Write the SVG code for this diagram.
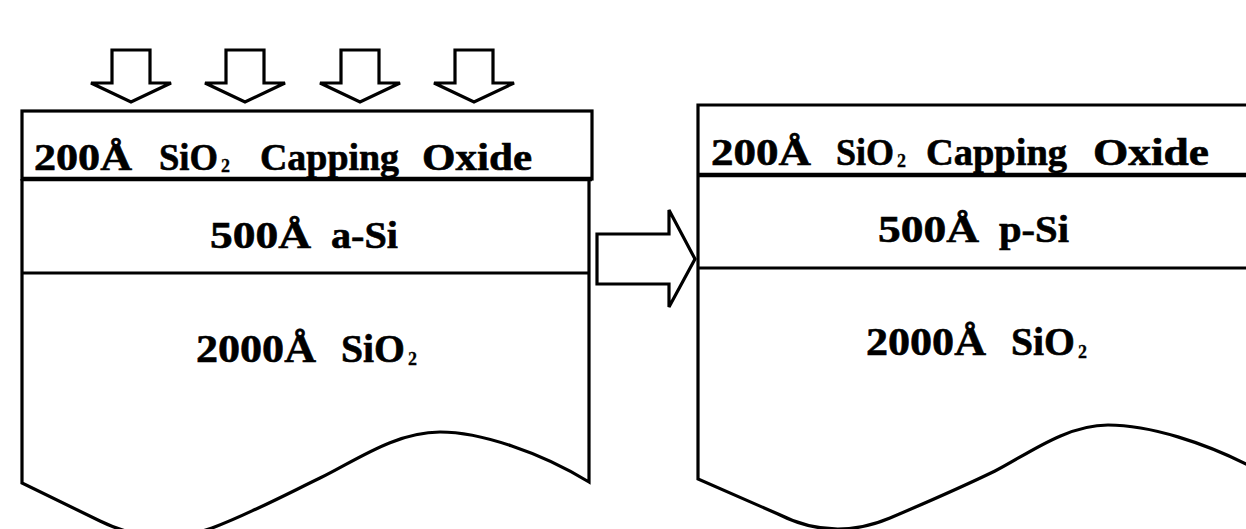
<svg xmlns="http://www.w3.org/2000/svg" width="1246" height="529" viewBox="0 0 1246 529">
<style>
.ln{fill:none;stroke:#000;stroke-width:3.2;stroke-linejoin:miter}
.thick{fill:none;stroke:#000;stroke-width:4.6}
.ar{fill:#fff;stroke:#000;stroke-width:3.2;stroke-linejoin:miter}
text{font-family:"Liberation Serif","Times New Roman",serif;font-weight:bold;fill:#000;stroke:#000;stroke-width:0.6}
.cap{font-size:37px}
.mid{font-size:38px}
.big{font-size:40px}
.sub{font-size:18px;stroke-width:0.3}
</style>
<defs>
<polygon id="down" points="-19,50 19,50 19,83 40,83 0,102 -40,83 -19,83"/>
</defs>
<rect width="1246" height="529" fill="#fff"/>
<g id="irradiation">
<use href="#down" x="131" class="ar"/>
<use href="#down" x="245" class="ar"/>
<use href="#down" x="360" class="ar"/>
<use href="#down" x="474" class="ar"/>
</g>
<g id="stack-before">
<rect x="22" y="111" width="570" height="68" class="ln"/>
<line x1="22" y1="179" x2="592" y2="179" class="thick"/>
<path class="ln" d="M22 179 V483 L100 521 Q155 548 212 528 C245 516 285 495 320 478 C355 461 395 432 440 432 C480 432 540 452 589 482 V179"/>
<line x1="22" y1="273" x2="589" y2="273" class="ln"/>
<text class="cap" x="34" y="170" textLength="98" lengthAdjust="spacingAndGlyphs">200Å</text>
<text class="cap" x="159" y="170" textLength="59" lengthAdjust="spacingAndGlyphs">SiO</text>
<text class="sub" x="221" y="172">2</text>
<text class="cap" x="260" y="170" textLength="139" lengthAdjust="spacingAndGlyphs">Capping</text>
<text class="cap" x="422" y="170" textLength="110" lengthAdjust="spacingAndGlyphs">Oxide</text>
<text class="mid" x="210" y="248" textLength="101" lengthAdjust="spacingAndGlyphs">500Å</text>
<text class="mid" x="331" y="248" textLength="67" lengthAdjust="spacingAndGlyphs">a-Si</text>
<text class="big" x="196" y="362" textLength="120" lengthAdjust="spacingAndGlyphs">2000Å</text>
<text class="big" x="341" y="362" textLength="64" lengthAdjust="spacingAndGlyphs">SiO</text>
<text class="sub" x="408" y="365">2</text>
</g>
<g id="process-arrow">
<polygon class="ar" points="597,234 669,234 669,210 695,259 669,307 669,284 597,284"/>
</g>
<g id="stack-after">
<path class="ln" d="M1250 105 H698 V479 L778 514 Q833 542 890 518 C930 501 960 488 995 471 C1025 456 1065 425 1108 425 C1150 425 1205 443 1250 466"/>
<line x1="698" y1="175" x2="1250" y2="175" class="thick"/>
<line x1="698" y1="268" x2="1250" y2="268" class="ln"/>
<text class="cap" x="711" y="165" textLength="100" lengthAdjust="spacingAndGlyphs">200Å</text>
<text class="cap" x="836" y="165" textLength="58" lengthAdjust="spacingAndGlyphs">SiO</text>
<text class="sub" x="897" y="167">2</text>
<text class="cap" x="926" y="165" textLength="141" lengthAdjust="spacingAndGlyphs">Capping</text>
<text class="cap" x="1093" y="165" textLength="116" lengthAdjust="spacingAndGlyphs">Oxide</text>
<text class="mid" x="878" y="242" textLength="101" lengthAdjust="spacingAndGlyphs">500Å</text>
<text class="mid" x="999" y="242" textLength="70" lengthAdjust="spacingAndGlyphs">p-Si</text>
<text class="big" x="866" y="355" textLength="120" lengthAdjust="spacingAndGlyphs">2000Å</text>
<text class="big" x="1011" y="355" textLength="64" lengthAdjust="spacingAndGlyphs">SiO</text>
<text class="sub" x="1078" y="358">2</text>
</g>
</svg>
